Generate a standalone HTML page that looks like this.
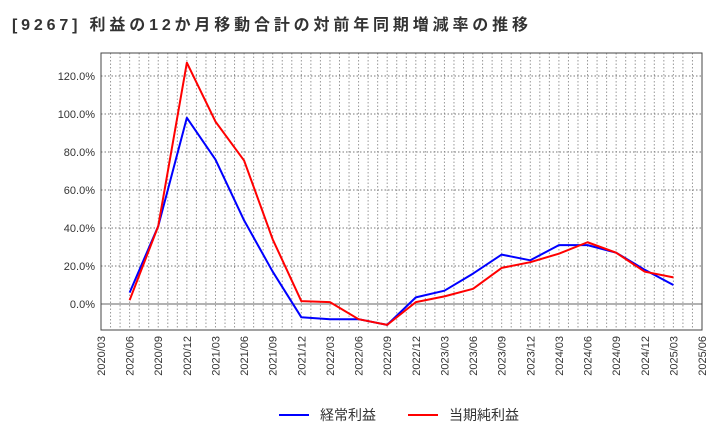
<!DOCTYPE html>
<html><head><meta charset="utf-8"><style>
body{margin:0;background:#fff;font-family:"Liberation Sans","Noto Sans CJK JP",sans-serif;}
</style></head><body>
<svg id="c" width="720" height="440" xmlns="http://www.w3.org/2000/svg">
<text x="12" y="30" font-size="16" font-weight="bold" fill="#333" textLength="516" lengthAdjust="spacing" font-family="Liberation Sans,Noto Sans CJK JP,sans-serif">[9267]  利益の12か月移動合計の対前年同期増減率の推移</text>
<g id="grid"></g><g id="axes"></g><g id="series"></g>
<g>
<line x1="279" y1="415" x2="309" y2="415" stroke="#0000ff" stroke-width="2"/>
<text x="320" y="420" font-size="14" fill="#333">経常利益</text>
<line x1="408" y1="415" x2="438" y2="415" stroke="#ff0000" stroke-width="2"/>
<text x="449" y="420" font-size="14" fill="#333">当期純利益</text>
</g>
</svg>
<script>
const categories=["2020/03","2020/06","2020/09","2020/12","2021/03","2021/06","2021/09","2021/12","2022/03","2022/06","2022/09","2022/12","2023/03","2023/06","2023/09","2023/12","2024/03","2024/06","2024/09","2024/12","2025/03","2025/06"];
const ordinary=[null,6,41,98,76,44,17,-7,-8,-8,-11,3.5,7,16,26,23,31,31,27,18,10,null];
const net=[null,2,41,127,96,75.5,34,1.5,1,-8,-11,1,4,8,19,22,26.5,32.5,27,17,14,null];
const yTicks=[0,20,40,60,80,100,120];
const L=101,R=702,T=53,B=330;
const x=i=>L+(R-L)*i/(categories.length-1);
const y=v=>304-v*38/20;
const NS="http://www.w3.org/2000/svg";
function mk(p,t,a){const e=document.createElementNS(NS,t);for(const k in a)e.setAttribute(k,a[k]);document.getElementById(p).appendChild(e);return e;}
const months=(categories.length-1)*3;
for(let m=1;m<months;m++){const xx=L+(R-L)*m/months;
const e=mk("grid","line",{x1:xx,x2:xx,y1:T,y2:B,stroke:"#999","stroke-dasharray":"1.5,2","stroke-width":1});

}
yTicks.forEach(v=>{const e=mk("grid","line",{x1:L,x2:R,y1:y(v),y2:y(v),stroke:v===0?"#666":"#777","stroke-dasharray":v===0?"none":"1.5,2","stroke-width":1});


const t=mk("axes","text",{x:L-6,y:y(v)+4,"text-anchor":"end","font-size":11,fill:"#333"});t.textContent=v.toFixed(1)+"%";

});
const fr=mk("axes","rect",{x:L,y:T,width:R-L,height:B-T,fill:"none",stroke:"#444","stroke-width":1});


categories.forEach((c,i)=>{const t=mk("axes","text",{transform:`translate(${x(i)+4},${B+6}) rotate(-90)`,"text-anchor":"end","font-size":11,fill:"#333"});t.textContent=c;

});
function line(d,col,name){const pts=[];d.forEach((v,i)=>{if(v!==null)pts.push(x(i)+","+y(v));});
const p=mk("series","polyline",{points:pts.join(" "),fill:"none",stroke:col,"stroke-width":2,"stroke-linejoin":"round"});

}
line(ordinary,"#0000ff","ordinary-profit-line");
line(net,"#ff0000","net-profit-line");
</script>
</body></html>
